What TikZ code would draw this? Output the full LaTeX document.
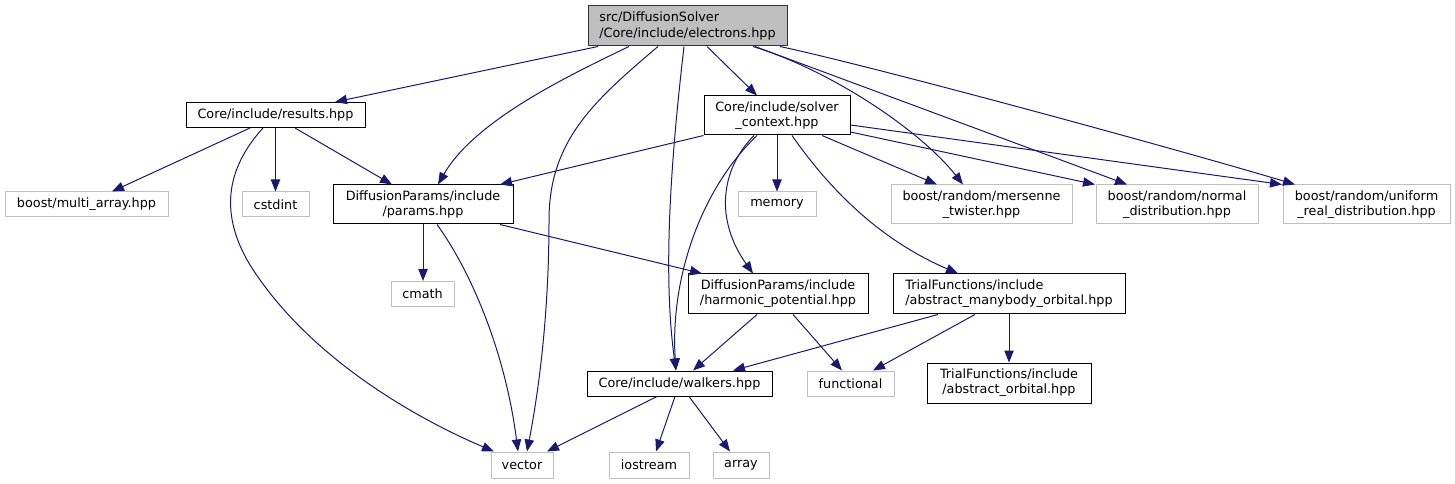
\documentclass[tikz,border=0pt]{standalone}
\usepackage{fontspec}
\setmainfont{DejaVu Sans}
\usetikzlibrary{arrows.meta}
\definecolor{edgec}{RGB}{25,25,112}
\definecolor{extc}{RGB}{191,191,191}
\definecolor{rootfill}{RGB}{191,191,191}
\def\pxu{0.75pt}
\tikzset{
  box/.style={draw=black, line width=0.75pt, inner sep=0pt, align=center,
    font=\fontsize{9.6}{11.3}\selectfont, text=black},
  ext/.style={box, draw=extc},
  e/.style={draw=edgec, line width=0.75pt, -{Triangle[length=9pt,width=7pt]}},
}
\begin{document}
\begin{tikzpicture}[x=0.75pt,y=-0.75pt]
\useasboundingbox (0,0) rectangle (1455,484);
% nodes
\node[box, fill=rootfill, draw=black!80, align=left, minimum width=199*\pxu, minimum height=40*\pxu] (root) at (687.5,26) {src/DiffusionSolver\\/Core/include/electrons.hpp};
\node[box, minimum width=179*\pxu, minimum height=25*\pxu] (results) at (275.5,115) {Core/include/results.hpp};
\node[box, minimum width=146*\pxu, minimum height=39*\pxu] (solver) at (777,115.5) {Core/include/solver\\\_context.hpp};
\node[ext, minimum width=163*\pxu, minimum height=25*\pxu] (multi) at (86.5,204.5) {boost/multi\_array.hpp};
\node[ext, minimum width=67*\pxu, minimum height=25*\pxu] (cstdint) at (275.5,204.5) {cstdint};
\node[box, minimum width=180*\pxu, minimum height=39*\pxu] (params) at (423,204.5) {DiffusionParams/include\\/params.hpp};
\node[ext, minimum width=78*\pxu, minimum height=25*\pxu] (memory) at (777,204.5) {memory};
\node[ext, minimum width=181*\pxu, minimum height=39*\pxu] (mersenne) at (981.5,204.5) {boost/random/mersenne\\\_twister.hpp};
\node[ext, minimum width=162*\pxu, minimum height=39*\pxu] (normal) at (1177,204.5) {boost/random/normal\\\_distribution.hpp};
\node[ext, minimum width=167*\pxu, minimum height=39*\pxu] (uniform) at (1366.5,204.5) {boost/random/uniform\\\_real\_distribution.hpp};
\node[ext, minimum width=63*\pxu, minimum height=25*\pxu] (cmath) at (422.5,294) {cmath};
\node[box, minimum width=180*\pxu, minimum height=40*\pxu] (harmonic) at (778,294) {DiffusionParams/include\\/harmonic\_potential.hpp};
\node[box, align=left, minimum width=232*\pxu, minimum height=40*\pxu] (manybody) at (1009,294) {TrialFunctions/include\\/abstract\_manybody\_orbital.hpp};
\node[box, minimum width=185*\pxu, minimum height=25*\pxu] (walkers) at (679.5,383.5) {Core/include/walkers.hpp};
\node[ext, minimum width=87*\pxu, minimum height=25*\pxu] (functional) at (850.5,383.5) {functional};
\node[box, minimum width=164*\pxu, minimum height=40*\pxu] (aorb) at (1009,383) {TrialFunctions/include\\/abstract\_orbital.hpp};
\node[ext, minimum width=62*\pxu, minimum height=26*\pxu] (vector) at (522,465) {vector};
\node[ext, minimum width=80*\pxu, minimum height=26*\pxu] (iostream) at (649,465) {iostream};
\node[ext, minimum width=56*\pxu, minimum height=26*\pxu] (array) at (741,465) {array};
% edges from root
\draw[e] (root.south -| 598,0) -- (results.north -| 335,0);
\draw[e] (root.south -| 629,0) .. controls (570,75) and (475,120) .. (params.north -| 438,0);
\draw[e] (root.south -| 658,0) .. controls (595,100) and (549,140) .. (549,220) .. controls (549,330) and (535,410) .. (vector.north -| 527,0);
\draw[e] (root.south -| 684,0) .. controls (672,150) and (662,270) .. (walkers.north -| 676,0);
\draw[e] (root.south -| 707,0) -- (solver.north -| 757,0);
\draw[e] (root.south -| 753,0) .. controls (830,70) and (920,130) .. (mersenne.north -| 963,0);
\draw[e] (root.south -| 755,0) -- (normal.north -| 1127,0);
\draw[e] (root.south -| 780,0) .. controls (880,68) and (1180,150) .. (uniform.north -| 1295,0);
% edges from solver
\draw[e] (solver.south west) -- (params.north -| 500,0);
\draw[e] (solver.south) -- (memory.north);
\draw[e] (solver.south -| 822,0) -- (mersenne.north -| 937,0);
\draw[e] (solver.east |- 0,132) -- (normal.north -| 1095,0);
\draw[e] (solver.east |- 0,125) -- (uniform.north -| 1282,0);
\draw[e] (solver.south -| 757,0) .. controls (700,190) and (670,280) .. (walkers.north -| 676,0);
\draw[e] (solver.south -| 754,0) .. controls (720,170) and (715,220) .. (harmonic.north -| 753,0);
\draw[e] (solver.south -| 792,0) .. controls (830,190) and (880,240) .. (manybody.north -| 958,0);
% edges from results
\draw[e] (results.south -| 250,0) -- (multi.north -| 112,0);
\draw[e] (results.south) -- (cstdint.north);
\draw[e] (results.south -| 295,0) -- (params.north -| 392,0);
\draw[e] (results.south -| 263,0) .. controls (225,170) and (220,215) .. (250,265) .. controls (310,360) and (420,420) .. (vector.north -| 494,0);
% edges from params
\draw[e] (params.south) -- (params.south |- cmath.north);
\draw[e] (params.south -| 437,0) .. controls (470,270) and (505,350) .. (vector.north -| 518,0);
\draw[e] (params.south -| 500,0) -- (harmonic.north -| 702,0);
% edges from harmonic and manybody
\draw[e] (harmonic.south -| 757,0) -- (walkers.north -| 693,0);
\draw[e] (harmonic.south -| 793,0) -- (functional.north -| 842,0);
\draw[e] (manybody.south -| 938,0) -- (walkers.north -| 733,0);
\draw[e] (manybody.south -| 975,0) -- (functional.north -| 873,0);
\draw[e] (manybody.south) -- (aorb.north);
% edges from walkers
\draw[e] (walkers.south -| 657,0) -- (vector.north -| 547,0);
\draw[e] (walkers.south -| 675,0) -- (iostream.north -| 656,0);
\draw[e] (walkers.south -| 689,0) -- (array.north -| 730,0);
\end{tikzpicture}
\end{document}
